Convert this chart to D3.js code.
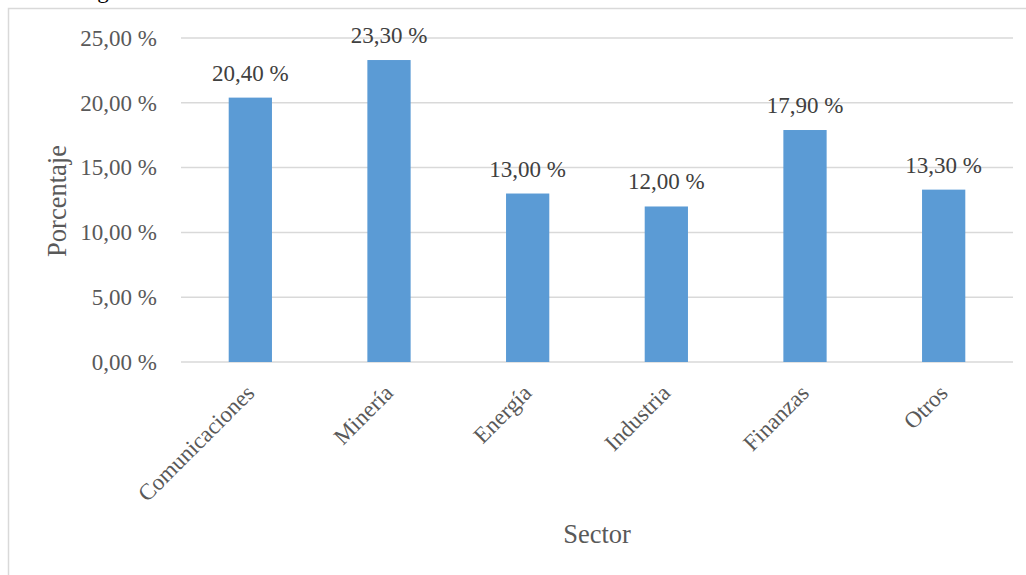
<!DOCTYPE html>
<html><head><meta charset="utf-8">
<script src="https://cdn.jsdelivr.net/npm/d3@7"></script>
<style>body{margin:0;background:#fff}svg{display:block}</style>
</head><body>
<script>
const categories = ["Comunicaciones","Minería","Energía","Industria","Finanzas","Otros"];
const values = [20.4, 23.3, 13.0, 12.0, 17.9, 13.3];
const yTicks = [0, 5, 10, 15, 20, 25];
const yTitle = "Porcentaje";
const xTitle = "Sector";

const W = 1026, H = 575;
const svg = d3.select("body").append("svg").attr("width", W).attr("height", H);
const font = "'Liberation Serif','Times New Roman',serif";
const fmt = v => d3.format(".2f")(v).replace(".", ",") + " %";

// chart area border
svg.append("rect").attr("x", 8.5).attr("y", 8.5).attr("width", 1100).attr("height", 700)
  .attr("fill", "none").attr("stroke", "#D9D9D9").attr("stroke-width", 1.5);
svg.append("text").attr("x", 78).attr("y", -2).attr("font-family", font).attr("font-size", 23)
  .attr("fill", "#000").text("Figura");

const x = d3.scaleBand().domain(categories).range([181, 1013]).paddingInner(0.688).paddingOuter(0.344);
const y = d3.scaleLinear().domain([0, 25]).range([362, 38]);

// gridlines
svg.append("g").selectAll("line").data(yTicks).join("line")
  .attr("x1", 181).attr("x2", 1013).attr("y1", d => y(d)).attr("y2", d => y(d))
  .attr("stroke", "#D9D9D9").attr("stroke-width", 1.5);

// y tick labels
const yAxis = svg.append("g").attr("transform", "translate(157,0)")
  .call(d3.axisLeft(y).tickValues(yTicks).tickSize(0).tickPadding(0).tickFormat(fmt));
yAxis.select(".domain").remove();
yAxis.selectAll("text").attr("font-family", font).attr("font-size", 23).attr("fill", "#595959");

// bars
svg.append("g").selectAll("rect").data(values).join("rect")
  .attr("x", (d, i) => x(categories[i])).attr("width", x.bandwidth())
  .attr("y", d => y(d)).attr("height", d => y(0) - y(d))
  .attr("fill", "#5B9BD5");

// data labels
svg.append("g").selectAll("text").data(values).join("text")
  .attr("x", (d, i) => x(categories[i]) + x.bandwidth() / 2)
  .attr("y", d => y(d) - 17)
  .attr("text-anchor", "middle").attr("font-family", font).attr("font-size", 23).attr("fill", "#404040")
  .text(fmt);

// category labels
svg.append("g").selectAll("text").data(categories).join("text")
  .attr("transform", d => `translate(${x(d) + x.bandwidth() / 2 - 6},${y(0) + 21}) rotate(-45)`)
  .attr("text-anchor", "end").attr("dy", "0.7em")
  .attr("font-family", font).attr("font-size", 23).attr("fill", "#595959")
  .text(d => d);

// axis titles
svg.append("text").attr("transform", "translate(66,201) rotate(-90)")
  .attr("text-anchor", "middle").attr("font-family", font).attr("font-size", 26.5).attr("fill", "#595959")
  .text(yTitle);
svg.append("text").attr("x", 597).attr("y", 543)
  .attr("text-anchor", "middle").attr("font-family", font).attr("font-size", 26.5).attr("fill", "#595959")
  .text(xTitle);
</script>
</body></html>
